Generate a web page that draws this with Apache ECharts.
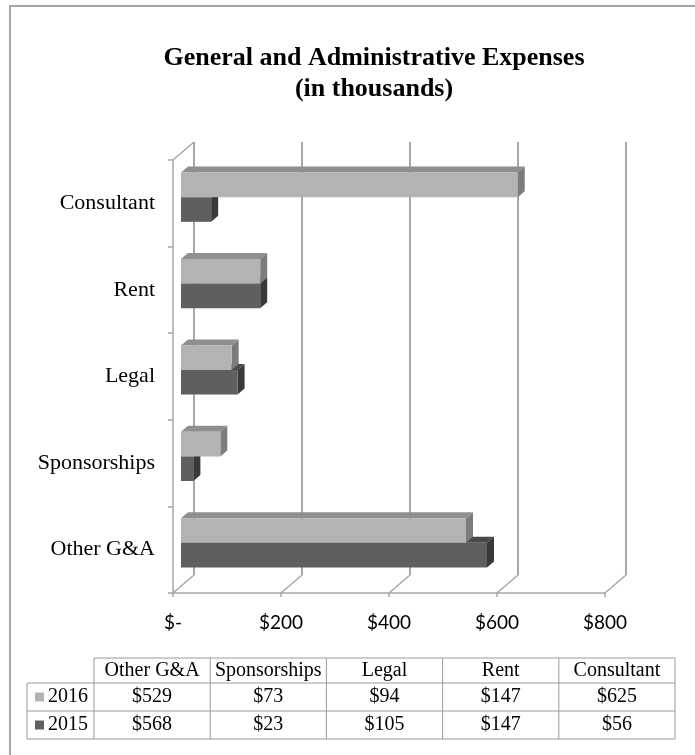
<!DOCTYPE html>
<html><head><meta charset="utf-8">
<script src="https://cdn.jsdelivr.net/npm/echarts@6/dist/echarts.min.js"></script>
<style>html,body{margin:0;padding:0;background:#fff}#c{width:695px;height:755px}</style>
</head><body><div id="c"></div>
<script>
// ---- data ----
const categories = ['Other G&A', 'Sponsorships', 'Legal', 'Rent', 'Consultant'];
const seriesNames = ['2016', '2015'];
const values2016 = [529, 73, 94, 147, 625];
const values2015 = [568, 23, 105, 147, 56];
const xTicks = [0, 200, 400, 600, 800];
const xTickLabels = ['$-', '$200', '$400', '$600', '$800'];

// ---- layout / style ----
const SERIF = 'Liberation Serif';
const FRONT = {left: 173, top: 160, width: 432, height: 433};
const DX = 21, DY = -18;              // depth of the back wall
const BAR = {left: 181, top: 154, width: 431, height: 432};
const BDX = 7, BDY = -6;              // bar depth
const colors = {
  '2016': {front: '#b3b3b3', top: '#8f8f8f', side: '#7c7c7c'},
  '2015': {front: '#5f5f5f', top: '#494949', side: '#393939'}
};
const GRID_COLOR = '#8a8a8a', AXIS_COLOR = '#a6a6a6';

const chart = echarts.init(document.getElementById('c'), null, {renderer: 'canvas'});

function barRender(name) {
  return function (params, api) {
    const ci = api.value(0), v = api.value(1);
    const p0 = api.coord([0, ci]);
    const p1 = api.coord([v, ci]);
    const band = api.size([0, 1])[1];
    const h = band * 0.285;
    const yTop = name === '2016' ? p0[1] - h : p0[1];
    const x = p0[0], w = p1[0] - p0[0];
    const c = colors[name];
    return {
      type: 'group',
      children: [
        {type: 'polygon', shape: {points: [[x, yTop], [x + BDX, yTop + BDY], [x + w + BDX, yTop + BDY], [x + w, yTop]]}, style: {fill: c.top}},
        {type: 'polygon', shape: {points: [[x + w, yTop], [x + w + BDX, yTop + BDY], [x + w + BDX, yTop + h + BDY], [x + w, yTop + h]]}, style: {fill: c.side}},
        {type: 'rect', shape: {x: x, y: yTop, width: w, height: h}, style: {fill: c.front}}
      ]
    };
  };
}

function decorRender(params, api) {
  const v = api.value(0);
  const cs = params.coordSys;
  const px = api.coord([v, 0])[0];
  const bottom = cs.y + cs.height;
  const children = [
    {type: 'line', shape: {x1: px, y1: bottom, x2: px + DX, y2: bottom + DY}, style: {stroke: AXIS_COLOR, lineWidth: 1.5}}
  ];
  if (v === 0) {
    children.push({type: 'line', shape: {x1: px, y1: cs.y, x2: px + DX, y2: cs.y + DY}, style: {stroke: AXIS_COLOR, lineWidth: 1.5}});
  }
  return {type: 'group', children: children};
}

// ---- data table (built from the arrays) ----
const T = {left: 27, keyRight: 94, right: 675, rows: [658, 683, 711, 739]};
const colW = (T.right - T.keyRight) / categories.length;
const tableEls = [];
const lineStyle = {stroke: '#9a9a9a', lineWidth: 1};
tableEls.push({type: 'line', shape: {x1: T.keyRight, y1: T.rows[0], x2: T.right, y2: T.rows[0]}, style: lineStyle});
for (let r = 1; r < T.rows.length; r++) {
  tableEls.push({type: 'line', shape: {x1: T.left, y1: T.rows[r], x2: T.right, y2: T.rows[r]}, style: lineStyle});
}
tableEls.push({type: 'line', shape: {x1: T.left, y1: T.rows[1], x2: T.left, y2: T.rows[3]}, style: lineStyle});
for (let i = 0; i <= categories.length; i++) {
  const x = T.keyRight + i * colW;
  tableEls.push({type: 'line', shape: {x1: x, y1: T.rows[0], x2: x, y2: T.rows[3]}, style: lineStyle});
}
const tFont = {fontFamily: SERIF, fontSize: 20, fill: '#000', textAlign: 'center', textVerticalAlign: 'middle'};
categories.forEach((c, i) => {
  tableEls.push({type: 'text', x: T.keyRight + (i + 0.5) * colW, y: (T.rows[0] + T.rows[1]) / 2,
    style: Object.assign({text: c}, tFont)});
});
const rowsData = [values2016, values2015];
seriesNames.forEach((name, r) => {
  const yc = (T.rows[r + 1] + T.rows[r + 2]) / 2;
  tableEls.push({type: 'rect', shape: {x: 35, y: yc - 4.5, width: 9, height: 9}, style: {fill: colors[name].front}});
  tableEls.push({type: 'text', x: 48, y: yc, style: Object.assign({}, tFont, {text: name, textAlign: 'left'})});
  rowsData[r].forEach((v, i) => {
    tableEls.push({type: 'text', x: T.keyRight + (i + 0.5) * colW, y: yc, style: Object.assign({text: '$' + v}, tFont)});
  });
});
// outer chart border
tableEls.push({type: 'rect', shape: {x: 10, y: 6, width: 720, height: 780}, style: {fill: null, stroke: '#a6a6a6', lineWidth: 2}, z: -10});

const option = {
  backgroundColor: '#fff',
  animation: false,
  title: {
    text: 'General and Administrative Expenses\n(in thousands)',
    left: 369, top: 38, textAlign: 'center',
    textStyle: {fontFamily: SERIF, fontWeight: 'bold', fontSize: 26, lineHeight: 31, color: '#000'}
  },
  grid: [
    {left: FRONT.left, top: FRONT.top, width: FRONT.width, height: FRONT.height},
    {left: FRONT.left + DX, top: FRONT.top + DY, width: FRONT.width, height: FRONT.height},
    {left: BAR.left, top: BAR.top, width: BAR.width, height: BAR.height}
  ],
  xAxis: [
    {gridIndex: 0, type: 'value', min: 0, max: 800, interval: 200,
      axisLine: {show: true, lineStyle: {color: AXIS_COLOR, width: 1.5}},
      axisTick: {show: true, length: 4, lineStyle: {color: AXIS_COLOR, width: 1.5}},
      splitLine: {show: false},
      axisLabel: {margin: 20, fontFamily: 'Lato', fontSize: 19, color: '#000',
        formatter: v => xTickLabels[xTicks.indexOf(v)]}},
    {gridIndex: 1, type: 'value', min: 0, max: 800, interval: 200,
      axisLine: {show: false}, axisTick: {show: false}, axisLabel: {show: false},
      splitLine: {show: true, lineStyle: {color: GRID_COLOR, width: 1.5}}},
    {gridIndex: 2, type: 'value', min: 0, max: 800, show: false}
  ],
  yAxis: [
    {gridIndex: 0, type: 'category', data: categories,
      axisLine: {show: true, lineStyle: {color: AXIS_COLOR, width: 1.5}},
      axisTick: {show: true, length: 5, lineStyle: {color: AXIS_COLOR, width: 1.5}},
      axisLabel: {margin: 18, fontFamily: SERIF, fontSize: 22, color: '#000', padding: [5, 0, 0, 0]}},
    {gridIndex: 1, type: 'category', data: categories, show: false},
    {gridIndex: 2, type: 'category', data: categories, show: false}
  ],
  series: [
    {type: 'custom', name: 'decor', xAxisIndex: 0, yAxisIndex: 0, silent: true, z: 1,
      data: xTicks.map(v => [v, 0]), encode: {x: 0, y: 1}, renderItem: decorRender},
    {type: 'custom', name: '2015', xAxisIndex: 2, yAxisIndex: 2, z: 3,
      data: values2015.map((v, i) => [i, v]), encode: {x: 1, y: 0}, renderItem: barRender('2015')},
    {type: 'custom', name: '2016', xAxisIndex: 2, yAxisIndex: 2, z: 4,
      data: values2016.map((v, i) => [i, v]), encode: {x: 1, y: 0}, renderItem: barRender('2016')}
  ],
  graphic: tableEls
};
chart.setOption(option);
</script>
</body></html>
